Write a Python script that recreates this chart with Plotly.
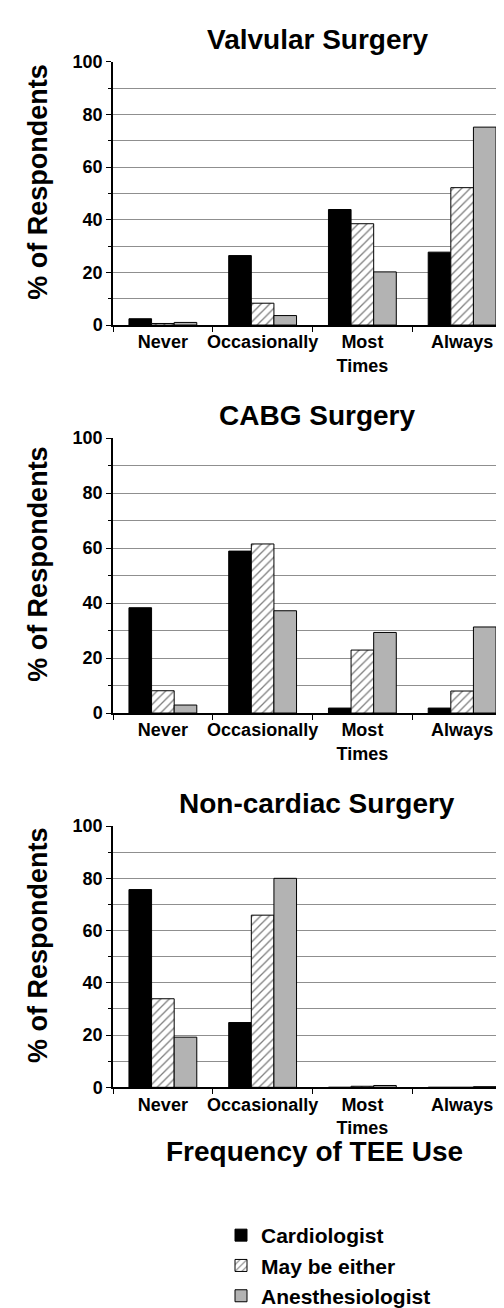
import plotly.graph_objects as go

# ---- data ----
categories = ["Never", "Occasionally", "Most<br>Times", "Always"]
series_names = ["Cardiologist", "May be either", "Anesthesiologist"]
panel_titles = ["Valvular Surgery", "CABG Surgery", "Non-cardiac Surgery"]

valvular_cardiologist = [2.4, 26.4, 43.9, 27.7]
valvular_either = [0.6, 8.3, 38.5, 52.2]
valvular_anesthesiologist = [1.0, 3.6, 20.2, 75.2]

cabg_cardiologist = [38.3, 58.9, 1.8, 1.8]
cabg_either = [8.1, 61.5, 22.9, 8.0]
cabg_anesthesiologist = [2.9, 37.2, 29.3, 31.3]

noncardiac_cardiologist = [75.7, 24.8, 0.0, 0.0]
noncardiac_either = [33.9, 65.9, 0.4, 0.0]
noncardiac_anesthesiologist = [19.2, 80.0, 0.7, 0.25]

y_ticks = [0, 20, 40, 60, 80, 100]

panels = [
    [valvular_cardiologist, valvular_either, valvular_anesthesiologist],
    [cabg_cardiologist, cabg_either, cabg_anesthesiologist],
    [noncardiac_cardiologist, noncardiac_either, noncardiac_anesthesiologist],
]

# ---- styling ----
W, H = 504, 1308
FONT = "Liberation Sans, Arial, sans-serif"
GRAY = "#b3b3b3"
styles = [
    dict(color="black", line=dict(color="black", width=1)),
    dict(color="white", line=dict(color="black", width=1),
         pattern=dict(shape="/", fgcolor="black", bgcolor="white", size=6, solidity=0.22)),
    dict(color=GRAY, line=dict(color="black", width=1)),
]

def py(px):
    return 1 - px / H

# plot areas in pixels (top, bottom)
plot_px = [(45, 315), (431, 713), (829, 1097)]
x_left = 105 / W

fig = go.Figure()
for i, vals in enumerate(panels):
    suffix = "" if i == 0 else str(i + 1)
    for j, name in enumerate(series_names):
        fig.add_trace(go.Bar(
            x=categories, y=vals[j], name=name,
            marker=styles[j], legendgroup=name, showlegend=(i == 0),
            xaxis="x" + suffix, yaxis="y" + suffix,
        ))

layout = dict(
    width=W, height=H,
    margin=dict(l=0, r=0, t=0, b=0),
    paper_bgcolor="white", plot_bgcolor="white",
    barmode="group", bargap=0.32, bargroupgap=0,
    font=dict(family=FONT, color="black"),
    legend=dict(
        x=213 / W, y=py(1228), xanchor="left", yanchor="top",
        font=dict(size=21, family=FONT, weight="bold"),
        tracegroupgap=0, bgcolor="rgba(0,0,0,0)",
    ),
    annotations=[],
)

for i, (top, bot) in enumerate(plot_px):
    suffix = "" if i == 0 else str(i + 1)
    layout["xaxis" + suffix] = dict(
        domain=[x_left, 1.0], anchor="y" + suffix,
        type="category", categoryorder="array", categoryarray=categories,
        showline=True, linecolor="black", linewidth=1.5,
        ticks="outside", tickson="boundaries", ticklen=5, tickcolor="black",
        tickangle=0,
        tickfont=dict(size=18, family=FONT, weight="bold"),
        showgrid=False, zeroline=False, fixedrange=True,
    )
    layout["yaxis" + suffix] = dict(
        domain=[py(bot), py(top)], anchor="x" + suffix,
        range=[0, 100], tickvals=y_ticks,
        showline=True, linecolor="black", linewidth=1.5,
        ticks="outside", ticklen=5, tickcolor="black",
        tickfont=dict(size=18, family=FONT, weight="bold"),
        showgrid=True, gridcolor="#8f8f8f", gridwidth=1,
        minor=dict(dtick=10, showgrid=True, gridcolor="#8f8f8f", gridwidth=1,
                   ticks="outside", ticklen=3, tickcolor="black"),
        zeroline=False, fixedrange=True,
    )
    layout["annotations"].append(dict(
        text=panel_titles[i], xref="paper", yref="paper",
        x=309 / W, y=py(top - 23), xanchor="center", yanchor="middle",
        showarrow=False, font=dict(size=28, family=FONT, weight="bold"),
    ))
    layout["annotations"].append(dict(
        text="% of Respondents", xref="paper", yref="paper",
        x=30 / W, y=py((top + bot) / 2 - 12), xanchor="center", yanchor="middle",
        textangle=-90, showarrow=False, font=dict(size=27, family=FONT, weight="bold"),
    ))

layout["annotations"].append(dict(
    text="Frequency of TEE Use", xref="paper", yref="paper",
    x=306 / W, y=py(1163), xanchor="center", yanchor="middle",
    showarrow=False, font=dict(size=28, family=FONT, weight="bold"),
))

fig.update_layout(**layout)
fig.write_html("out.html")
